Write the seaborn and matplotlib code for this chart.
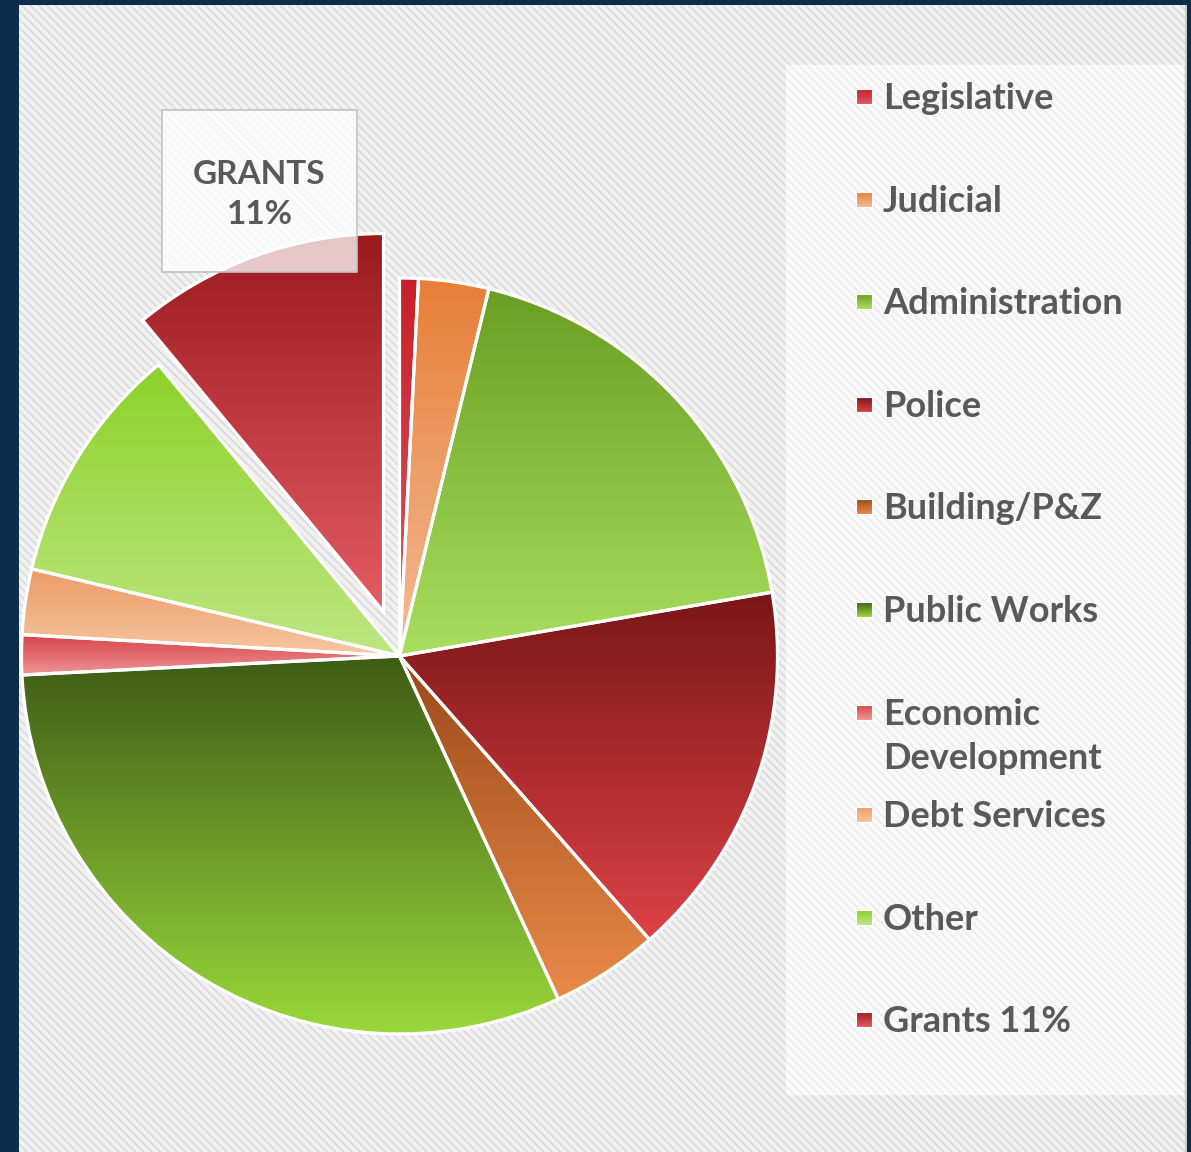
import numpy as np
import matplotlib
matplotlib.use("Agg")
import matplotlib.pyplot as plt
from matplotlib.patches import Rectangle
import seaborn as sns

# ---- data -------------------------------------------------------------
categories = ["Legislative", "Judicial", "Administration", "Police",
              "Building/P&Z", "Public Works", "Economic\nDevelopment",
              "Debt Services", "Other", "Grants 11%"]
shares = [0.8, 3.0, 18.5, 16.2, 4.6, 31.1, 1.7, 2.8, 10.3, 11.0]
grad_top = ["#c8202a", "#e87e38", "#6a9e22", "#7a1618", "#9c4a18",
            "#3e5c16", "#d84448", "#ec9a64", "#8cd22a", "#9a1a1e"]
grad_bottom = ["#d85a64", "#f2bc94", "#aade5e", "#de4246", "#e98a4a",
               "#9ad83a", "#ee9494", "#f6c6a2", "#bee682", "#e45c64"]
callout_text = "GRANTS\n11%"
exploded = "Grants 11%"

# ---- style ------------------------------------------------------------
sns.set_theme(style="white")
plt.rcParams["font.family"] = ["Lato", "DejaVu Sans"]
plt.rcParams["hatch.linewidth"] = 1.3
TEXT = "#595959"
NAVY = "#0d2d4a"

W, H = 1191, 1152
fig = plt.figure(figsize=(W / 100, H / 100), dpi=100, facecolor=NAVY)

# background panel with fine diagonal texture (pixel coordinates)
bg = fig.add_axes([0, 0, 1, 1], zorder=0)
bg.set_xlim(0, W)
bg.set_ylim(H, 0)
bg.axis("off")
bg.add_patch(Rectangle((19, 5), 1168, H, facecolor="#f1f1f1",
                       edgecolor="#dcdcdc", hatch="\\\\\\\\", lw=0))
bg.add_patch(Rectangle((1185, 5), 2, H, facecolor="#c8c8c8", lw=0))
bg.add_patch(Rectangle((786, 65), 398, 1030, facecolor="#fafafa",
                       edgecolor="#ececec", hatch="\\\\\\\\", lw=0))

# ---- pie --------------------------------------------------------------
cx, cy, R = 399.5, 656, 378
lim = 1.25
half = R * lim
ax = fig.add_axes([(cx - half) / W, (H - cy - half) / H, 2 * half / W, 2 * half / H],
                  zorder=1)
ax.set_facecolor("none")

explode = [0.125 if c == exploded else 0 for c in categories]
wedges, _ = ax.pie(shares, startangle=90, counterclock=False, explode=explode,
                   radius=1, wedgeprops=dict(edgecolor="white", linewidth=2.3))

# vertical gradient fill for each slice, clipped to the slice shape
ramp = np.linspace(0, 1, 256).reshape(-1, 1)
for w, top, bot in zip(wedges, grad_top, grad_bottom):
    ext = w.get_path().get_extents()
    cmap = sns.blend_palette([bot, top], as_cmap=True)
    im = ax.imshow(ramp, cmap=cmap, origin="lower", aspect="auto",
                   extent=[ext.x0, ext.x1, ext.y0, ext.y1],
                   interpolation="bilinear", zorder=1)
    im.set_clip_path(w)
    w.set_facecolor("none")
    w.set_zorder(2)

ax.set_xlim(-lim, lim)
ax.set_ylim(-lim, lim)
ax.axis("off")

# ---- callout box and legend (pixel coordinates) -----------------------
fg = fig.add_axes([0, 0, 1, 1], zorder=2)
fg.set_facecolor("none")
fg.add_patch(Rectangle((162, 110), 195, 162, facecolor=(1, 1, 1, 0.76),
                       edgecolor="#c3c3c3", lw=1.2))
for k, line in enumerate(callout_text.split("\n")):
    fg.text(259.5, 184.5 + k * 40, line, ha="center", va="baseline", color=TEXT,
            fontsize=24, fontweight="bold")

base0, step, line_gap = 109, 102.6, 44
for i, (name, top, bot) in enumerate(zip(categories, grad_top, grad_bottom)):
    base = base0 + i * step
    y0, y1 = base - 20, base - 5
    cm = sns.blend_palette([top, bot], as_cmap=True)
    fg.imshow(ramp, cmap=cm, origin="upper", aspect="auto",
              extent=[856, 872, y1, y0], interpolation="bilinear", zorder=2)
    fg.add_patch(Rectangle((856, y0), 16, 15, facecolor="none",
                           edgecolor="white", lw=0.8, zorder=3))
    for k, line in enumerate(name.split("\n")):
        fg.text(883, base + k * line_gap, line, ha="left", va="baseline",
                color=TEXT, fontsize=26, fontweight="bold")

fg.set_xlim(0, W)
fg.set_ylim(H, 0)
fg.axis("off")

fig.savefig("out.png", dpi=100, facecolor=fig.get_facecolor())
